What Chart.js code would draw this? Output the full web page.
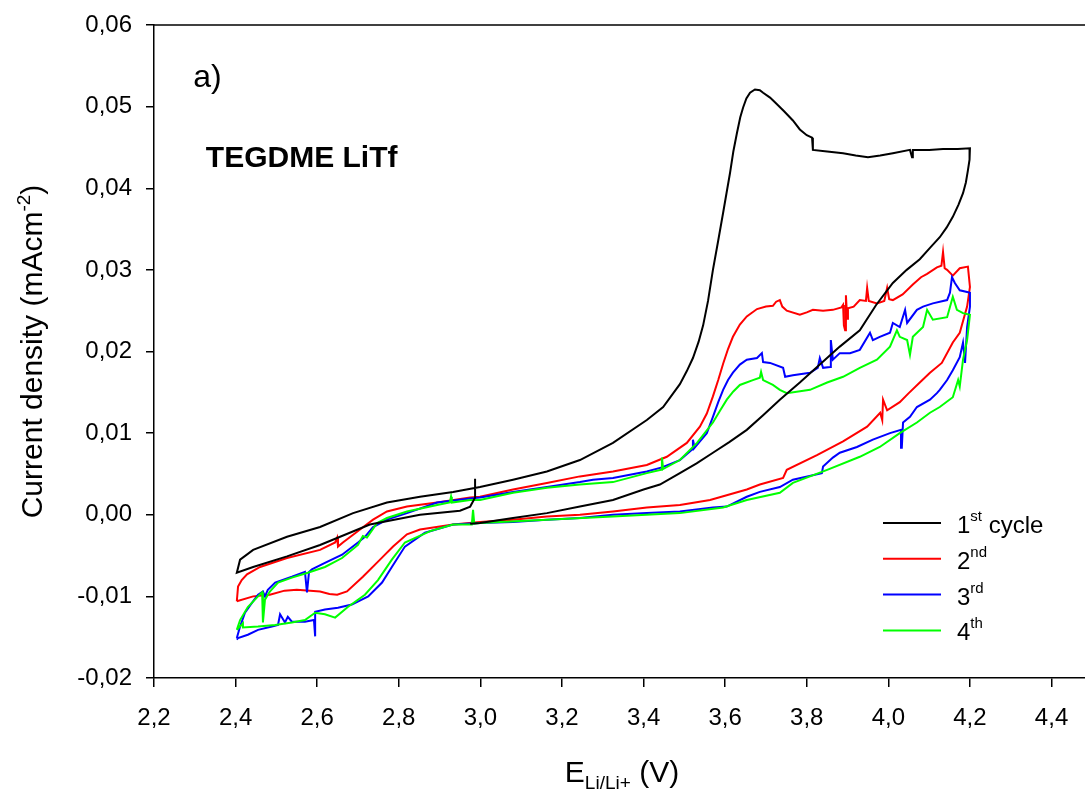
<!DOCTYPE html>
<html>
<head>
<meta charset="utf-8">
<script src="https://cdn.jsdelivr.net/npm/chart.js@4/dist/chart.umd.min.js"></script>
<style>
  html, body { margin: 0; padding: 0; background: #fff; }
  #wrap { width: 1085px; height: 796px; }
</style>
</head>
<body>
<div id="wrap"><canvas id="cv" width="1085" height="796"></canvas></div>
<script>
// potential (V) , current density (mA/cm2)
const cycle1 = [
  [2.987, 0.0044], [2.987, 0.0021], [2.975, 0.0010], [2.950, 0.0005], [2.852, 0.0000],
  [2.729, -0.0012], [2.607, -0.0037], [2.526, -0.0051], [2.443, -0.0064], [2.403, -0.0071],
  [2.411, -0.0055], [2.443, -0.0043], [2.526, -0.0027], [2.607, -0.0015], [2.688, 0.0002],
  [2.771, 0.0015], [2.852, 0.0022], [2.933, 0.0028], [2.999, 0.0034], [3.080, 0.0043],
  [3.163, 0.0053], [3.244, 0.0067], [3.325, 0.0088], [3.408, 0.0116], [3.448, 0.0132],
  [3.489, 0.0160], [3.506, 0.0176], [3.521, 0.0192], [3.535, 0.0212], [3.546, 0.0232],
  [3.558, 0.0262], [3.570, 0.0300], [3.583, 0.0336], [3.595, 0.0370], [3.604, 0.0396],
  [3.612, 0.0419], [3.620, 0.0445], [3.629, 0.0468], [3.637, 0.0487], [3.644, 0.0499],
  [3.652, 0.0510], [3.661, 0.0517], [3.673, 0.0521], [3.685, 0.0520], [3.693, 0.0517],
  [3.710, 0.0511], [3.727, 0.0503], [3.745, 0.0494], [3.766, 0.0483], [3.783, 0.0472],
  [3.800, 0.0465], [3.813, 0.0462], [3.815, 0.0447], [3.850, 0.0445], [3.889, 0.0443],
  [3.920, 0.0440], [3.950, 0.0438], [3.980, 0.0440], [4.011, 0.0443], [4.053, 0.0447],
  [4.058, 0.0438], [4.060, 0.0447], [4.100, 0.0447], [4.134, 0.0448], [4.170, 0.0448],
  [4.200, 0.0449], [4.200, 0.0447], [4.198, 0.0435], [4.195, 0.0422], [4.190, 0.0407],
  [4.183, 0.0394], [4.172, 0.0380], [4.158, 0.0365], [4.143, 0.0352], [4.126, 0.0340],
  [4.102, 0.0327], [4.077, 0.0313], [4.045, 0.0300], [4.011, 0.0284], [3.970, 0.0257],
  [3.930, 0.0226], [3.881, 0.0206], [3.832, 0.0184], [3.783, 0.0162], [3.734, 0.0141],
  [3.693, 0.0122], [3.653, 0.0104], [3.610, 0.0089], [3.570, 0.0076], [3.530, 0.0063],
  [3.489, 0.0051], [3.440, 0.0037], [3.400, 0.0031], [3.325, 0.0018], [3.244, 0.0010],
  [3.163, 0.0002], [3.080, -0.0004], [2.999, -0.0010], [2.975, -0.0011]
];

const cycle2 = [
  [2.403, -0.0106], [2.406, -0.0088], [2.415, -0.0080], [2.428, -0.0073], [2.460, -0.0064],
  [2.526, -0.0053], [2.607, -0.0043], [2.644, -0.0034], [2.649, -0.0028], [2.651, -0.0039],
  [2.663, -0.0034], [2.705, -0.0018], [2.737, -0.0006], [2.771, 0.0004], [2.820, 0.0010],
  [2.894, 0.0015], [2.975, 0.0021], [2.999, 0.0022], [3.080, 0.0031], [3.163, 0.0039],
  [3.244, 0.0047], [3.325, 0.0053], [3.408, 0.0061], [3.457, 0.0071], [3.506, 0.0088],
  [3.538, 0.0108], [3.555, 0.0124], [3.570, 0.0145], [3.583, 0.0165], [3.595, 0.0185],
  [3.607, 0.0203], [3.619, 0.0218], [3.636, 0.0233], [3.653, 0.0243], [3.678, 0.0252],
  [3.700, 0.0255], [3.717, 0.0256], [3.725, 0.0261], [3.734, 0.0263], [3.740, 0.0255],
  [3.751, 0.0250], [3.783, 0.0245], [3.800, 0.0248], [3.815, 0.0251], [3.840, 0.0250],
  [3.864, 0.0251], [3.885, 0.0254], [3.889, 0.0257], [3.891, 0.0232], [3.894, 0.0226],
  [3.896, 0.0269], [3.899, 0.0240], [3.901, 0.0253], [3.915, 0.0255], [3.930, 0.0263],
  [3.945, 0.0262], [3.948, 0.0278], [3.952, 0.0262], [3.972, 0.0259], [3.990, 0.0262],
  [3.997, 0.0278], [4.002, 0.0264], [4.011, 0.0263], [4.035, 0.0270], [4.060, 0.0282],
  [4.080, 0.0291], [4.095, 0.0295], [4.119, 0.0303], [4.130, 0.0305], [4.134, 0.0322],
  [4.138, 0.0302], [4.144, 0.0300], [4.158, 0.0293], [4.175, 0.0302], [4.195, 0.0304],
  [4.200, 0.0279], [4.193, 0.0255], [4.175, 0.0223], [4.158, 0.0211], [4.131, 0.0186],
  [4.102, 0.0174], [4.077, 0.0162], [4.050, 0.0149], [4.028, 0.0138], [3.997, 0.0128],
  [3.987, 0.0141], [3.985, 0.0116], [3.980, 0.0125], [3.948, 0.0108], [3.889, 0.0090],
  [3.825, 0.0073], [3.751, 0.0055], [3.742, 0.0045], [3.685, 0.0037], [3.653, 0.0031],
  [3.563, 0.0018], [3.489, 0.0012], [3.408, 0.0009], [3.325, 0.0004], [3.244, 0.0000],
  [3.163, -0.0002], [3.080, -0.0006], [2.999, -0.0009], [2.933, -0.0012], [2.852, -0.0018],
  [2.820, -0.0024], [2.786, -0.0039], [2.754, -0.0055], [2.712, -0.0076], [2.673, -0.0094],
  [2.649, -0.0098], [2.630, -0.0097], [2.607, -0.0094], [2.550, -0.0092], [2.520, -0.0093],
  [2.484, -0.0098], [2.443, -0.0100], [2.403, -0.0106]
];

const cycle3 = [
  [2.403, -0.0151], [2.411, -0.0137], [2.423, -0.0120], [2.440, -0.0108], [2.455, -0.0098],
  [2.467, -0.0094], [2.472, -0.0100], [2.479, -0.0092], [2.497, -0.0083], [2.538, -0.0076],
  [2.570, -0.0070], [2.575, -0.0095], [2.580, -0.0070], [2.587, -0.0067], [2.619, -0.0059],
  [2.661, -0.0049], [2.700, -0.0034], [2.717, -0.0027], [2.737, -0.0015], [2.771, -0.0006],
  [2.820, 0.0002], [2.894, 0.0015], [2.975, 0.0020], [2.999, 0.0021], [3.080, 0.0028],
  [3.163, 0.0034], [3.244, 0.0040], [3.276, 0.0043], [3.325, 0.0045], [3.408, 0.0053],
  [3.445, 0.0058], [3.489, 0.0067], [3.519, 0.0080], [3.521, 0.0092], [3.525, 0.0082],
  [3.555, 0.0100], [3.570, 0.0120], [3.583, 0.0138], [3.595, 0.0153], [3.607, 0.0165],
  [3.619, 0.0174], [3.636, 0.0184], [3.653, 0.0190], [3.678, 0.0192], [3.690, 0.0198],
  [3.693, 0.0187], [3.710, 0.0186], [3.742, 0.0180], [3.747, 0.0169], [3.766, 0.0171],
  [3.808, 0.0174], [3.827, 0.0180], [3.832, 0.0192], [3.840, 0.0180], [3.857, 0.0181],
  [3.859, 0.0214], [3.864, 0.0190], [3.881, 0.0198], [3.906, 0.0198], [3.930, 0.0202],
  [3.955, 0.0223], [3.962, 0.0214], [3.979, 0.0218], [4.004, 0.0223], [4.011, 0.0235],
  [4.028, 0.0230], [4.041, 0.0251], [4.046, 0.0235], [4.070, 0.0251], [4.085, 0.0255],
  [4.109, 0.0259], [4.144, 0.0263], [4.151, 0.0272], [4.156, 0.0291], [4.163, 0.0284],
  [4.175, 0.0275], [4.193, 0.0273], [4.200, 0.0272], [4.200, 0.0255], [4.193, 0.0230],
  [4.188, 0.0186], [4.183, 0.0211], [4.175, 0.0193], [4.158, 0.0177], [4.144, 0.0165],
  [4.126, 0.0153], [4.119, 0.0149], [4.102, 0.0141], [4.070, 0.0132], [4.053, 0.0120],
  [4.036, 0.0113], [4.033, 0.0082], [4.031, 0.0104], [4.004, 0.0100], [3.962, 0.0092],
  [3.923, 0.0083], [3.881, 0.0076], [3.864, 0.0070], [3.840, 0.0059], [3.837, 0.0051],
  [3.766, 0.0043], [3.734, 0.0034], [3.685, 0.0028], [3.653, 0.0022], [3.604, 0.0010],
  [3.570, 0.0009], [3.489, 0.0004], [3.408, 0.0002], [3.325, 0.0000], [3.244, -0.0004],
  [3.163, -0.0006], [3.080, -0.0009], [2.999, -0.0010], [2.933, -0.0012], [2.864, -0.0022],
  [2.815, -0.0039], [2.783, -0.0064], [2.759, -0.0083], [2.725, -0.0100], [2.685, -0.0110],
  [2.651, -0.0114], [2.619, -0.0116], [2.595, -0.0119], [2.595, -0.0149], [2.592, -0.0129],
  [2.570, -0.0131], [2.538, -0.0131], [2.528, -0.0125], [2.521, -0.0132], [2.509, -0.0122],
  [2.504, -0.0135], [2.489, -0.0137], [2.455, -0.0141], [2.430, -0.0147], [2.406, -0.0151],
  [2.403, -0.0153]
];

const cycle4 = [
  [2.403, -0.0141], [2.411, -0.0129], [2.430, -0.0113], [2.455, -0.0100], [2.465, -0.0095],
  [2.467, -0.0132], [2.472, -0.0104], [2.484, -0.0094], [2.504, -0.0083], [2.538, -0.0077],
  [2.577, -0.0071], [2.619, -0.0064], [2.661, -0.0053], [2.700, -0.0037], [2.712, -0.0026],
  [2.722, -0.0028], [2.747, -0.0010], [2.771, -0.0004], [2.820, 0.0004], [2.894, 0.0012],
  [2.925, 0.0015], [2.928, 0.0022], [2.930, 0.0015], [2.975, 0.0018], [2.999, 0.0018],
  [3.080, 0.0027], [3.163, 0.0033], [3.244, 0.0037], [3.325, 0.0040], [3.408, 0.0051],
  [3.443, 0.0055], [3.445, 0.0070], [3.448, 0.0056], [3.489, 0.0067], [3.531, 0.0088],
  [3.570, 0.0113], [3.588, 0.0128], [3.604, 0.0141], [3.620, 0.0151], [3.636, 0.0159],
  [3.668, 0.0165], [3.685, 0.0168], [3.688, 0.0175], [3.693, 0.0165], [3.717, 0.0159],
  [3.734, 0.0153], [3.751, 0.0149], [3.808, 0.0153], [3.850, 0.0162], [3.889, 0.0169],
  [3.930, 0.0180], [3.972, 0.0190], [4.004, 0.0206], [4.021, 0.0226], [4.028, 0.0218],
  [4.046, 0.0214], [4.053, 0.0196], [4.060, 0.0218], [4.085, 0.0230], [4.095, 0.0251],
  [4.109, 0.0239], [4.144, 0.0242], [4.158, 0.0267], [4.168, 0.0251], [4.183, 0.0247],
  [4.200, 0.0245], [4.193, 0.0214], [4.183, 0.0190], [4.175, 0.0157], [4.171, 0.0165],
  [4.158, 0.0144], [4.126, 0.0132], [4.102, 0.0125], [4.070, 0.0113], [4.028, 0.0100],
  [3.979, 0.0083], [3.930, 0.0071], [3.850, 0.0055], [3.766, 0.0039], [3.734, 0.0027],
  [3.653, 0.0018], [3.595, 0.0009], [3.489, 0.0002], [3.325, -0.0002], [3.163, -0.0006],
  [2.999, -0.0010], [2.985, -0.0011], [2.982, 0.0006], [2.979, -0.0012], [2.933, -0.0012],
  [2.877, -0.0020], [2.815, -0.0034], [2.783, -0.0055], [2.749, -0.0080], [2.717, -0.0098],
  [2.675, -0.0113], [2.644, -0.0126], [2.619, -0.0122], [2.595, -0.0120], [2.570, -0.0129],
  [2.538, -0.0132], [2.497, -0.0135], [2.455, -0.0137], [2.418, -0.0138], [2.418, -0.0133],
  [2.403, -0.0141]
];

const cycles = [cycle1, cycle2, cycle3, cycle4];
const cycleColors = ['#000000', '#ff0000', '#0000ff', '#00ff00'];
const cycleOrder = [0, 3, 2, 1]; // black on top, red at the bottom

const legendMain = ['1', '2', '3', '4'];
const legendSup = ['st', 'nd', 'rd', 'th'];
const legendTail = [' cycle', '', '', ''];

const xTicks = [2.2, 2.4, 2.6, 2.8, 3.0, 3.2, 3.4, 3.6, 3.8, 4.0, 4.2, 4.4];
const yTicks = [-0.02, -0.01, 0.00, 0.01, 0.02, 0.03, 0.04, 0.05, 0.06];

const FONT = '"Liberation Sans", Arial, sans-serif';

function comma(v, d) {
    if (Math.abs(v) < 1e-9) v = 0;
    return v.toFixed(d).replace('.', ',');
}

// draws a run of text pieces: [text, size, rise, bold]
function drawPieces(ctx, pieces, x, y, align) {
    let total = 0;
    pieces.forEach(p => {
        ctx.font = (p[3] ? 'bold ' : '') + p[1] + 'px ' + FONT;
        total += ctx.measureText(p[0]).width;
    });
    let cx = align === 'center' ? x - total / 2 : x;
    ctx.textAlign = 'left';
    ctx.textBaseline = 'alphabetic';
    pieces.forEach(p => {
        ctx.font = (p[3] ? 'bold ' : '') + p[1] + 'px ' + FONT;
        ctx.fillText(p[0], cx, y - p[2]);
        cx += ctx.measureText(p[0]).width;
    });
}

const decorations = {
    id: 'decorations',
    afterDraw(chart) {
        const ctx = chart.ctx;
        const a = chart.chartArea;
        const xs = chart.scales.x, ys = chart.scales.y;
        ctx.save();
        ctx.fillStyle = '#000';

        // top frame line
        ctx.strokeStyle = '#000';
        ctx.lineWidth = 1.5;
        ctx.beginPath();
        ctx.moveTo(a.left, a.top);
        ctx.lineTo(a.right, a.top);
        ctx.stroke();

        // panel label and electrolyte name
        drawPieces(ctx, [['a)', 32, 0]], xs.getPixelForValue(2.296), ys.getPixelForValue(0.0524), 'left');
        drawPieces(ctx, [['TEGDME LiTf', 30, 0, true]], xs.getPixelForValue(2.327), ys.getPixelForValue(0.0426), 'left');

        // legend
        for (let i = 0; i < cycles.length; i++) {
            const ly = 523 + i * 35.8;
            ctx.strokeStyle = cycleColors[i];
            ctx.lineWidth = 2;
            ctx.beginPath();
            ctx.moveTo(883, ly);
            ctx.lineTo(941, ly);
            ctx.stroke();
            drawPieces(ctx, [[legendMain[i], 24, 0], [legendSup[i], 15, 12], [legendTail[i], 24, 0]], 957, ly + 10, 'left');
        }

        // x axis title
        drawPieces(ctx, [['E', 30, 0], ['Li/Li+', 19, -7], [' (V)', 30, 0]], 622, 782, 'center');

        // y axis title (rotated)
        ctx.translate(42, (a.top + a.bottom) / 2);
        ctx.rotate(-Math.PI / 2);
        drawPieces(ctx, [['Current density (mAcm', 30, 0], ['-2', 19, 12], [')', 30, 0]], 0, 0, 'center');
        ctx.restore();
    }
};

const datasets = cycles.map((c, i) => ({
    label: legendMain[i] + legendSup[i] + legendTail[i],
    data: c.map(p => ({ x: p[0], y: p[1] })),
    borderColor: cycleColors[i],
    backgroundColor: cycleColors[i],
    borderWidth: 2,
    showLine: true,
    pointRadius: 0,
    tension: 0,
    order: cycleOrder[i]
}));

new Chart(document.getElementById('cv').getContext('2d'), {
    type: 'scatter',
    data: { datasets: datasets },
    plugins: [decorations],
    options: {
        responsive: false,
        animation: false,
        layout: { padding: { left: 0, top: 25, right: 0, bottom: 0 } },
        plugins: { legend: { display: false }, tooltip: { enabled: false } },
        scales: {
            x: {
                type: 'linear',
                min: 2.2,
                max: 4.482,
                afterBuildTicks: axis => { axis.ticks = xTicks.map(v => ({ value: v })); },
                afterFit: axis => { axis.height = 118; axis.paddingLeft = 0; axis.paddingRight = 0; },
                border: { display: true, color: '#000', width: 1.5 },
                grid: { drawOnChartArea: false, drawTicks: true, tickLength: 9, color: '#000', lineWidth: 1.5 },
                ticks: {
                    color: '#000',
                    padding: 17,
                    maxRotation: 0,
                    font: { family: FONT, size: 24 },
                    callback: v => comma(v, 1)
                }
            },
            y: {
                type: 'linear',
                min: -0.02,
                max: 0.06,
                afterBuildTicks: axis => { axis.ticks = yTicks.map(v => ({ value: v })); },
                afterFit: axis => { axis.width = 154; axis.paddingTop = 0; axis.paddingBottom = 0; },
                border: { display: true, color: '#000', width: 1.5 },
                grid: { drawOnChartArea: false, drawTicks: true, tickLength: 8, color: '#000', lineWidth: 1.5 },
                ticks: {
                    color: '#000',
                    padding: 14,
                    font: { family: FONT, size: 24 },
                    callback: v => comma(v, 2)
                }
            }
        }
    }
});
</script>
</body>
</html>
